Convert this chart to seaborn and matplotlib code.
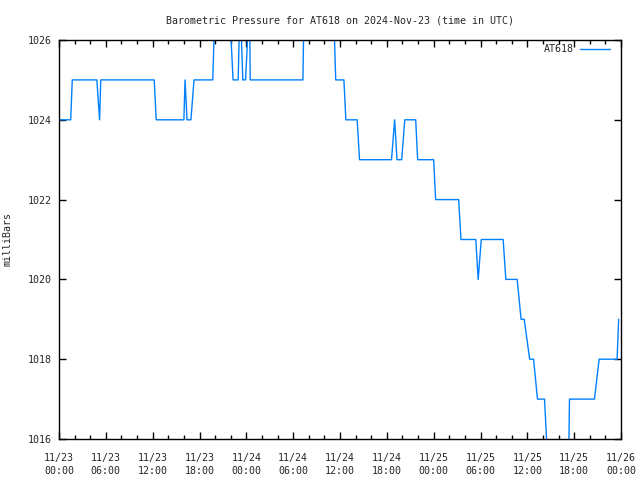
import matplotlib
matplotlib.use("Agg")
import matplotlib.pyplot as plt
import seaborn as sns
import pandas as pd
from matplotlib.ticker import MultipleLocator

# Hours since 2024-11-23 00:00 UTC
hours = [0, 1.5, 1.7, 4.85, 5.2, 5.35, 12.2, 12.45, 16.0, 16.15, 16.4, 16.9, 17.3,
         19.7, 20.0, 21.8, 22.3, 22.95, 23.2, 23.55, 23.9, 24.4, 24.5, 31.25, 31.4,
         35.15, 35.45, 36.5, 36.75, 38.2, 38.5, 42.6, 43.0, 43.3, 43.9, 44.3, 45.7,
         45.95, 48.0, 48.25, 51.2, 51.5, 53.4, 53.7, 54.1, 56.9, 57.25, 58.7, 59.2,
         59.6, 60.3, 60.8, 61.3, 62.2, 62.6, 65.3, 65.4, 68.6, 69.2, 71.5, 71.7]
pressure = [1024, 1024, 1025, 1025, 1024, 1025, 1025, 1024, 1024, 1025, 1024, 1024, 1025,
            1025, 1027, 1027, 1025, 1025, 1027, 1025, 1025, 1027, 1025, 1025, 1027,
            1027, 1025, 1025, 1024, 1024, 1023, 1023, 1024, 1023, 1023, 1024, 1024,
            1023, 1023, 1022, 1022, 1021, 1021, 1020, 1021, 1021, 1020, 1020, 1019,
            1019, 1018, 1018, 1017, 1017, 1015.5, 1015.5, 1017, 1017, 1018, 1018, 1019]

tick_hours = list(range(0, 73, 6))
tick_labels = ["11/23\n00:00", "11/23\n06:00", "11/23\n12:00", "11/23\n18:00",
               "11/24\n00:00", "11/24\n06:00", "11/24\n12:00", "11/24\n18:00",
               "11/25\n00:00", "11/25\n06:00", "11/25\n12:00", "11/25\n18:00",
               "11/26\n00:00"]
y_ticks = [1016, 1018, 1020, 1022, 1024, 1026]

df = pd.DataFrame({"hours": hours, "pressure": pressure})

sns.set_style("white")
plt.rcParams['font.family'] = ['DejaVu Sans Mono']
fs = 7.2

fig = plt.figure(figsize=(6.4, 4.8), dpi=100)
ax = fig.add_axes([59/640, 1 - 439/480, (621 - 59)/640, (439 - 40)/480])

sns.lineplot(data=df, x="hours", y="pressure", ax=ax, color="#0080ff",
             linewidth=1.0, label="AT618")

ax.set_xlim(0, 72)
ax.set_ylim(1016, 1026)
ax.set_xticks(tick_hours)
ax.set_xticklabels(tick_labels, fontsize=fs, linespacing=1.45)
ax.xaxis.set_minor_locator(MultipleLocator(2))
ax.set_yticks(y_ticks)
ax.set_yticklabels([str(v) for v in y_ticks], fontsize=fs)

ax.tick_params(axis="both", which="major", direction="in", length=5, width=1,
               top=True, right=True, bottom=True, left=True, color="black", pad=5)
ax.tick_params(axis="x", which="major", pad=10)
ax.tick_params(axis="x", which="minor", direction="in", length=3, width=1,
               top=True, bottom=True, color="black")
for s in ax.spines.values():
    s.set_color("black")
    s.set_linewidth(1)

ax.set_xlabel("")
ax.set_ylabel("milliBars", fontsize=fs, labelpad=11)
ax.set_title("Barometric Pressure for AT618 on 2024-Nov-23 (time in UTC)",
             fontsize=fs, pad=12)
ax.grid(False)

leg = ax.legend(loc="upper right", bbox_to_anchor=(1 - 7/562, 1), frameon=False,
                fontsize=fs, markerfirst=False, handlelength=3.0,
                borderaxespad=0.15, handletextpad=0.6, borderpad=0.3)

fig.savefig("out.png", dpi=100)
